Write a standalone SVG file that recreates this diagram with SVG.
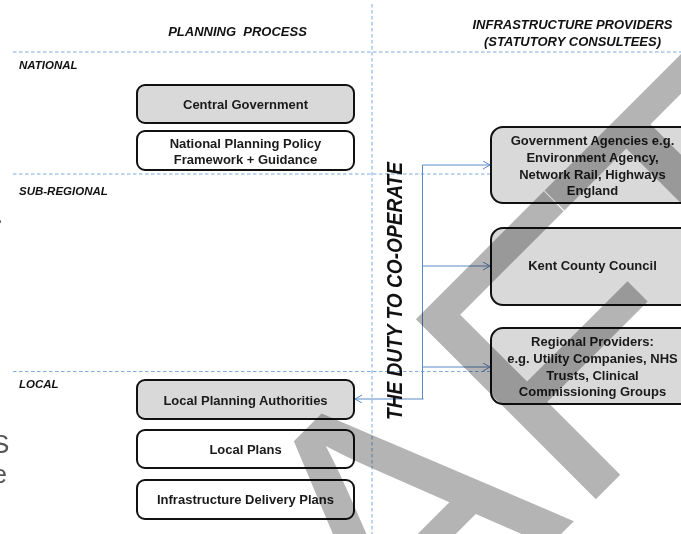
<svg xmlns="http://www.w3.org/2000/svg" width="681" height="534" viewBox="0 0 681 534">
<defs>
<style>
.dash{stroke:#7fa8dc;stroke-width:1;stroke-dasharray:3.5 2.5;fill:none}
.hdr{font-family:"Liberation Sans",Arial,sans-serif;font-weight:bold;font-style:italic;font-size:13px;fill:#111;text-anchor:middle}
.lvl{font-family:"Liberation Sans",Arial,sans-serif;font-weight:bold;font-style:italic;font-size:11.5px;fill:#111}
.box{stroke:#111;stroke-width:2}
.grey{fill:#d9d9d9}
.white{fill:#ffffff}
.lbl{font-family:"Liberation Sans",Arial,sans-serif;font-weight:bold;font-size:13px;fill:#1a1a1a;text-anchor:middle}
.con{stroke:#5a8ac6;stroke-width:1;fill:none}
.frag{font-family:"Liberation Sans",Arial,sans-serif;font-size:26px;fill:#555}
.wm{font-family:"Liberation Sans",Arial,sans-serif;font-size:370px;fill:#b4b4b4;font-kerning:none;mix-blend-mode:multiply}
</style>
<marker id="arr" markerUnits="userSpaceOnUse" markerWidth="10" markerHeight="10" refX="7" refY="4" orient="auto">
<path d="M0,0 L7,4 L0,8" fill="none" stroke="#5a8ac6" stroke-width="1"/>
</marker>
</defs>
<rect x="0" y="0" width="681" height="534" fill="#ffffff"/>

<g id="grid">
<line class="dash" x1="372" y1="4" x2="372" y2="534"/>
<line class="dash" x1="13" y1="52" x2="681" y2="52"/>
<line class="dash" x1="13" y1="174" x2="491" y2="174"/>
<line class="dash" x1="13" y1="371.5" x2="491" y2="371.5"/>
</g>

<g id="headers">
<text class="hdr" x="237.5" y="36" xml:space="preserve">PLANNING  PROCESS</text>
<text class="hdr" x="572.5" y="29">INFRASTRUCTURE PROVIDERS</text>
<text class="hdr" x="572.5" y="46">(STATUTORY CONSULTEES)</text>
<text class="lvl" x="19" y="69">NATIONAL</text>
<text class="lvl" x="19" y="195">SUB-REGIONAL</text>
<text class="lvl" x="19" y="388">LOCAL</text>
</g>

<g id="fragments">
<text class="frag" x="-4" y="223">.</text>
<text class="frag" x="-8" y="453">S</text>
<text class="frag" x="-7.5" y="483">e</text>
</g>

<g id="central-government">
<rect class="box grey" x="137" y="85" width="217" height="38" rx="8"/>
<text class="lbl" x="245.5" y="108.5">Central Government</text>
</g>
<g id="nppf">
<rect class="box white" x="137" y="131" width="217" height="39" rx="8"/>
<text class="lbl" x="245.5" y="147.5">National Planning Policy</text>
<text class="lbl" x="245.5" y="163.5">Framework + Guidance</text>
</g>
<g id="local-planning-authorities">
<rect class="box grey" x="137" y="380" width="217" height="39" rx="8"/>
<text class="lbl" x="245.5" y="404.5">Local Planning Authorities</text>
</g>
<g id="local-plans">
<rect class="box white" x="137" y="430" width="217" height="38" rx="8"/>
<text class="lbl" x="245.5" y="453.5">Local Plans</text>
</g>
<g id="infrastructure-delivery-plans">
<rect class="box white" x="137" y="480" width="217" height="39" rx="8"/>
<text class="lbl" x="245.5" y="503.5">Infrastructure Delivery Plans</text>
</g>

<g id="government-agencies">
<rect class="box grey" x="491" y="127" width="205" height="76" rx="12"/>
<text class="lbl" x="592.5" y="145">Government Agencies e.g.</text>
<text class="lbl" x="592.5" y="162">Environment Agency,</text>
<text class="lbl" x="592.5" y="178.5">Network Rail, Highways</text>
<text class="lbl" x="592.5" y="195">England</text>
</g>
<g id="kent-county-council">
<rect class="box grey" x="491" y="228" width="205" height="77" rx="12"/>
<text class="lbl" x="592.5" y="270">Kent County Council</text>
</g>
<g id="regional-providers">
<rect class="box grey" x="491" y="328" width="205" height="76" rx="12"/>
<text class="lbl" x="592.5" y="346">Regional Providers:</text>
<text class="lbl" x="592.5" y="363">e.g. Utility Companies, NHS</text>
<text class="lbl" x="592.5" y="379.5">Trusts, Clinical</text>
<text class="lbl" x="592.5" y="396">Commissioning Groups</text>
</g>

<g id="connectors">
<line class="con" x1="422.5" y1="165" x2="422.5" y2="399"/>
<line class="con" x1="422.5" y1="165" x2="490" y2="165" marker-end="url(#arr)"/>
<line class="con" x1="422.5" y1="266" x2="490" y2="266" marker-end="url(#arr)"/>
<line class="con" x1="422.5" y1="367" x2="490" y2="367" marker-end="url(#arr)"/>
<line class="con" x1="423.5" y1="399" x2="355" y2="399" stroke="#4a7dbf" stroke-width="2" marker-end="url(#arr)"/>
</g>

<text id="duty" transform="translate(402,420) rotate(-90)" x="0" y="0" textLength="258" lengthAdjust="spacingAndGlyphs" font-family="Liberation Sans, Arial, sans-serif" font-weight="bold" font-style="italic" font-size="22" fill="#111">THE DUTY TO CO-OPERATE</text>

<text id="watermark" class="wm" transform="translate(22,1073) rotate(-45)" x="0" y="0">DRAF<tspan dx="-22">T</tspan></text>
</svg>
